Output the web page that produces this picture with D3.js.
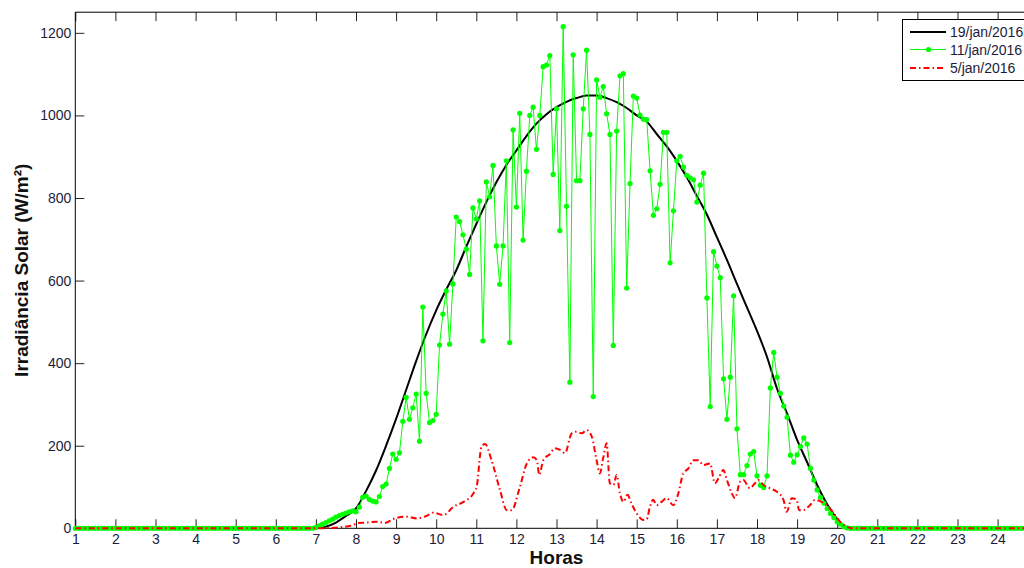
<!DOCTYPE html>
<html>
<head>
<meta charset="utf-8">
<script src="https://cdn.jsdelivr.net/npm/d3@7/dist/d3.min.js"></script>
<style>
  html, body { margin: 0; padding: 0; background: #fff; }
  svg { display: block; font-family: "Liberation Sans", Arial, sans-serif; }
</style>
</head>
<body>
<svg id="chart" width="1024" height="568"></svg>
<script>
// Hour ticks and irradiance ticks
const xTicks = d3.range(1, 25);
const yTicks = [0, 200, 400, 600, 800, 1000, 1200];

// Series names (legend order = drawing order)
const seriesNames = ["19/jan/2016", "11/jan/2016", "5/jan/2016"];

// 19/jan/2016 — clear-sky day (hours, W/m²)
const clearHours = [1, 7.0, 7.25, 7.5, 7.75, 8.0, 8.25, 8.5, 8.75, 9.0, 9.25, 9.5, 9.75,
  10.0, 10.25, 10.5, 10.75, 11.0, 11.25, 11.5, 11.75, 12.0, 12.25, 12.5, 12.75,
  13.0, 13.25, 13.5, 13.75, 14.0, 14.25, 14.5, 14.75, 15.0, 15.25, 15.5, 15.75,
  16.0, 16.25, 16.5, 16.75, 17.0, 17.25, 17.5, 17.75, 18.0, 18.25, 18.5, 18.75,
  19.0, 19.25, 19.5, 19.75, 20.0, 20.15, 20.3, 25];
const clearValues = [0, 0, 4, 14, 30, 48, 90, 140, 200, 265, 335, 405, 470,
  528, 578, 625, 682, 737, 790, 838, 880, 915, 950, 980, 1003,
  1020, 1033, 1042, 1048, 1048, 1042, 1032, 1018, 1000, 985, 955, 925,
  890, 850, 805, 760, 705, 650, 592, 535, 478, 415, 338, 278,
  214, 160, 105, 58, 22, 5, 0, 0];

// 11/jan/2016 — 5-minute samples from 01:00 to 25:00
const partlyStart = 1;
const partlyStepMinutes = 5;
const partlyValues = [
  0,0,0,0,0,0,0,0,0,0,0,0,           // 1h
  0,0,0,0,0,0,0,0,0,0,0,0,           // 2h
  0,0,0,0,0,0,0,0,0,0,0,0,           // 3h
  0,0,0,0,0,0,0,0,0,0,0,0,           // 4h
  0,0,0,0,0,0,0,0,0,0,0,0,           // 5h
  0,0,0,0,0,0,0,0,0,0,0,0,           // 6h
  2,6,10,14,18,22,27,31,34,37,40,42, // 7h
  40,51,75,78,70,66,64,77,101,107,145,180,          // 8h
  167,183,259,317,264,292,325,211,536,327,256,261,  // 9h
  276,444,519,575,446,592,754,743,711,676,615,776,  // 10h
  749,793,454,839,803,879,684,591,684,890,450,965,  // 11h
  778,1005,698,865,1000,1020,918,1000,1118,1122,1145,857, // 12h
  1016,721,1215,780,354,1147,842,842,1016,1158,954,319,   // 13h
  1086,1044,1070,1004,954,443,962,1096,1101,582,835,1047, // 14h
  1042,1001,991,990,866,758,774,833,959,959,643,769,      // 15h
  890,901,875,855,849,844,790,831,860,558,295,670,        // 16h
  635,607,362,264,366,563,241,130,130,152,180,186,        // 17h
  127,104,99,127,340,426,366,327,296,269,177,160,         // 18h
  178,198,219,204,145,117,93,75,61,48,36,26,              // 19h
  16,10,4,1,0,0,0,0,0,0,0,0,         // 20h
  0,0,0,0,0,0,0,0,0,0,0,0,           // 21h
  0,0,0,0,0,0,0,0,0,0,0,0,           // 22h
  0,0,0,0,0,0,0,0,0,0,0,0,           // 23h
  0,0,0,0,0,0,0,0,0,0,0,0,           // 24h
  0                                  // 25h
];

// 5/jan/2016 — overcast day (hours, W/m²)
const overcastHours = [1, 7.1, 7.67, 7.93, 8.05, 8.27, 8.52, 8.72, 8.97, 9.26, 9.51, 9.76, 9.93,
  10.18, 10.43, 10.68, 10.93, 11.01, 11.13, 11.22, 11.38, 11.59, 11.76, 11.88,
  12.09, 12.26, 12.42, 12.51, 12.57, 12.67, 12.84, 12.96, 13.09, 13.21, 13.38,
  13.5, 13.63, 13.75, 13.88, 14.0, 14.08, 14.17, 14.25, 14.33, 14.42, 14.5,
  14.58, 14.67, 14.77, 14.87, 15.0, 15.16, 15.25, 15.33, 15.41, 15.5, 15.62,
  15.75, 15.91, 16.04, 16.16, 16.29, 16.41, 16.54, 16.66, 16.83, 16.95, 17.04,
  17.16, 17.25, 17.37, 17.45, 17.58, 17.66, 17.82, 17.95, 18.03, 18.16, 18.32,
  18.49, 18.66, 18.74, 18.87, 18.99, 19.05, 19.15, 19.32, 19.45, 19.61, 19.78,
  19.95, 20.07, 20.24, 20.35, 25];
const overcastValues = [0, 0, 3, 8, 13, 14, 16, 13, 24, 28, 24, 30, 38,
  32, 52, 64, 85, 101, 198, 204, 165, 93, 44, 44,
  101, 157, 172, 165, 129, 165, 180, 194, 190, 182, 230,
  234, 230, 238, 222, 165, 133, 173, 206, 109, 105, 129,
  85, 64, 81, 60, 36, 20, 22, 52, 69, 56, 64,
  73, 56, 85, 133, 145, 165, 165, 153, 157, 109, 121,
  141, 117, 85, 73, 113, 117, 97, 109, 117, 105, 97,
  89, 69, 40, 73, 69, 44, 44, 56, 69, 64, 52,
  32, 16, 4, 0, 0];

// ---------------------------------------------------------------
const svg = d3.select("#chart");
const x = d3.scaleLinear().domain([1, 25]).range([75.3, 1037.7]);
const y = d3.scaleLinear().domain([0, 1250]).range([528.3, 12.2]);

const inkColor = "#1c1c3a";

// Axes: ticks point into the plot, as in a boxed frame
const gx = svg.append("g").attr("transform", `translate(0,${y(0)})`)
  .call(d3.axisBottom(x).tickValues(xTicks).tickFormat(d3.format("d"))
    .tickSizeInner(-9).tickSizeOuter(0).tickPadding(6));
const gxTop = svg.append("g").attr("transform", `translate(0,${y(1250)})`)
  .call(d3.axisTop(x).tickValues(xTicks).tickSizeInner(-9).tickSizeOuter(0).tickFormat(""));
const gy = svg.append("g").attr("transform", `translate(${x(1)},0)`)
  .call(d3.axisLeft(y).tickValues(yTicks).tickFormat(d3.format("d"))
    .tickSizeInner(-9).tickSizeOuter(0).tickPadding(4));

[gx, gxTop, gy].forEach(g => {
  g.select(".domain").remove();
  g.selectAll(".tick line").attr("stroke", "#222").attr("stroke-width", 1);
  g.selectAll(".tick text").attr("fill", inkColor).style("font-size", "14px")
    .style("font-family", "'Liberation Sans', Arial, sans-serif");
});

// Frame (left, top, bottom)
svg.append("path")
  .attr("d", `M${x(25)},${y(1250)}H${x(1)}V${y(0)}H${x(25)}`)
  .attr("fill", "none").attr("stroke", "#000").attr("stroke-width", 1);

// Series
const clearData = clearHours.map((h, i) => [h, clearValues[i]]);
const partlyData = partlyValues.map((v, i) => [partlyStart + i * partlyStepMinutes / 60, v]);
const overcastData = overcastHours.map((h, i) => [h, overcastValues[i]]);

svg.append("path").datum(clearData)
  .attr("d", d3.line().x(d => x(d[0])).y(d => y(d[1])).curve(d3.curveMonotoneX))
  .attr("fill", "none").attr("stroke", "#000").attr("stroke-width", 2);

svg.append("path").datum(partlyData)
  .attr("d", d3.line().x(d => x(d[0])).y(d => y(d[1])))
  .attr("fill", "none").attr("stroke", "#00ff00").attr("stroke-width", 1);

svg.append("g").selectAll("circle").data(partlyData).join("circle")
  .attr("cx", d => x(d[0])).attr("cy", d => y(d[1])).attr("r", 2.6)
  .attr("fill", "#00ff00");

svg.append("path").datum(overcastData)
  .attr("d", d3.line().x(d => x(d[0])).y(d => y(d[1])).curve(d3.curveMonotoneX))
  .attr("fill", "none").attr("stroke", "#ff0000").attr("stroke-width", 2)
  .attr("stroke-dasharray", "6,3,1.5,3");

// Axis titles
svg.append("text")
  .attr("x", x(13)).attr("y", 564)
  .attr("text-anchor", "middle")
  .style("font-size", "19px").style("font-weight", "bold").attr("fill", "#111")
  .text("Horas");

svg.append("text")
  .attr("transform", `translate(28,${(y(0) + y(1250)) / 2}) rotate(-90)`)
  .attr("text-anchor", "middle")
  .style("font-size", "19px").style("font-weight", "bold").attr("fill", "#111")
  .text("Irradiância Solar (W/m²)");

// Legend
const legend = svg.append("g");
legend.append("rect")
  .attr("x", 902.5).attr("y", 19.5).attr("width", 140).attr("height", 61)
  .attr("fill", "#fff").attr("stroke", "#000").attr("stroke-width", 1);

const legendRows = [
  { name: seriesNames[0], y: 32, color: "#000", width: 2, dash: null, marker: false },
  { name: seriesNames[1], y: 49.5, color: "#00ff00", width: 1, dash: null, marker: true },
  { name: seriesNames[2], y: 68, color: "#ff0000", width: 2, dash: "6,3,1.5,3", marker: false }
];
legendRows.forEach(r => {
  legend.append("line")
    .attr("x1", 910).attr("x2", 946).attr("y1", r.y).attr("y2", r.y)
    .attr("stroke", r.color).attr("stroke-width", r.width)
    .attr("stroke-dasharray", r.dash);
  if (r.marker) {
    legend.append("circle").attr("cx", 928.5).attr("cy", r.y).attr("r", 2.6).attr("fill", r.color);
  }
  legend.append("text")
    .attr("x", 950).attr("y", r.y + 5)
    .style("font-size", "14px").attr("fill", inkColor)
    .text(r.name);
});
</script>
</body>
</html>
